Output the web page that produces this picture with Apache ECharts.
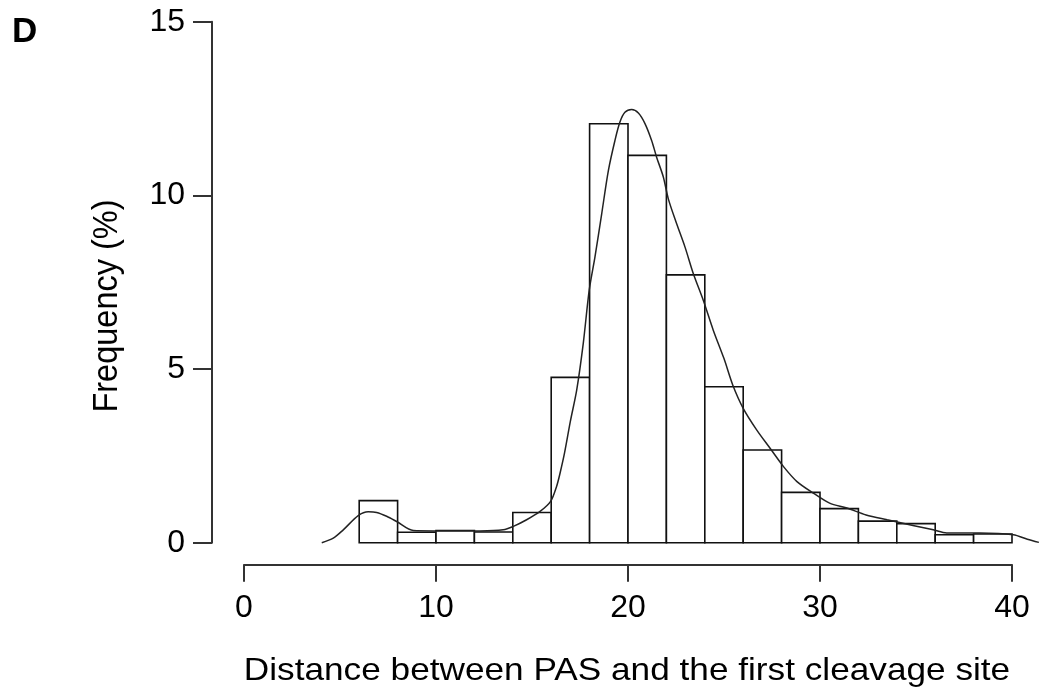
<!DOCTYPE html>
<html>
<head>
<meta charset="utf-8">
<script src="https://cdn.jsdelivr.net/npm/echarts@6/dist/echarts.min.js"></script>
<style>html,body{margin:0;padding:0;background:#fff;}#chart{width:1041px;height:692px;}</style>
</head>
<body>
<div id="chart"></div>
<script>
// Histogram bins (distance) and frequency (%)
var binStart = [6, 8, 10, 12, 14, 16, 18, 20, 22, 24, 26, 28, 30, 32, 34, 36, 38];
var binEnd   = [8, 10, 12, 14, 16, 18, 20, 22, 24, 26, 28, 30, 32, 34, 36, 38, 40];
var freq     = [1.21, 0.30, 0.35, 0.31, 0.87, 4.76, 12.06, 11.15, 7.71, 4.49, 2.67, 1.45, 0.98, 0.62, 0.55, 0.23, 0.25];

// Density curve points
var densX = [4.05, 4.65, 5.17, 5.95, 6.47, 6.91, 7.43, 7.95, 8.82, 9.85, 11.08, 12.29, 13.5, 14.03, 14.72, 15.42, 15.97, 16.28, 16.46, 16.7, 17.0, 17.33, 17.67, 17.98, 18.28, 18.63, 18.98, 19.32, 19.58, 19.84, 20.19, 20.54, 20.89, 21.23, 21.49, 21.84, 22.1, 22.53, 22.97, 23.4, 23.92, 24.44, 25.0, 25.45, 26.0, 26.7, 27.4, 28.1, 28.8, 29.65, 30.5, 31.4, 32.4, 33.5, 34.9, 35.9, 36.6, 38.3, 40.07, 40.8, 41.4];
var densY = [0, 0.13, 0.37, 0.78, 0.89, 0.87, 0.76, 0.61, 0.35, 0.34, 0.34, 0.34, 0.37, 0.47, 0.66, 0.90, 1.19, 1.62, 2.0, 2.6, 3.5, 4.4, 5.74, 7.27, 8.23, 9.47, 10.72, 11.58, 12.11, 12.39, 12.47, 12.37, 12.06, 11.58, 11.10, 10.53, 9.9, 9.19, 8.51, 7.75, 6.98, 6.12, 5.3, 4.55, 3.87, 3.25, 2.72, 2.19, 1.76, 1.43, 1.14, 1.0, 0.80, 0.66, 0.49, 0.37, 0.28, 0.28, 0.23, 0.10, 0.01];

// Axis ticks
var xTicks = { min: 0, max: 40, interval: 10 };
var xDataMax = 41.5; // the curve runs a little past the last tick
var yTicks = { min: 0, max: 15, interval: 5 };

var titleX = 'Distance between PAS and the first cleavage site';
var titleY = 'Frequency (%)';
var panel = 'D';

var FONT = '"Liberation Sans", Arial, Helvetica, sans-serif';
var chart = echarts.init(document.getElementById('chart'), null, { renderer: 'canvas' });

var axisLineStyle = { color: '#333', width: 2 };
var plotLeft = 244, plotTop = 21.7, plotW = 768, plotH = 521;

chart.setOption({
  animation: false,
  backgroundColor: '#fff',
  grid: [
    { left: plotLeft, top: plotTop, width: plotW * (xDataMax - xTicks.min) / (xTicks.max - xTicks.min), height: plotH },
    { left: plotLeft, top: plotTop, width: plotW, height: plotH }
  ],
  xAxis: [
    {
      gridIndex: 0, type: 'value', min: xTicks.min, max: xDataMax, show: false,
      splitLine: { show: false }
    },
    {
      gridIndex: 1, type: 'value', min: xTicks.min, max: xTicks.max, interval: xTicks.interval,
      offset: 22,
      axisLine: { show: true, onZero: false, lineStyle: axisLineStyle },
      axisTick: { show: true, inside: false, length: 17, lineStyle: axisLineStyle },
      axisLabel: { fontSize: 32, color: '#000', margin: 27, fontFamily: FONT },
      splitLine: { show: false }
    }
  ],
  yAxis: [
    {
      gridIndex: 0, type: 'value', min: yTicks.min, max: yTicks.max, interval: yTicks.interval,
      offset: 32,
      axisLine: { show: true, onZero: false, lineStyle: axisLineStyle },
      axisTick: { show: true, inside: false, length: 19, lineStyle: axisLineStyle },
      axisLabel: { fontSize: 32, color: '#000', margin: 27, fontFamily: FONT },
      splitLine: { show: false }
    },
    {
      gridIndex: 1, type: 'value', min: yTicks.min, max: yTicks.max, show: false,
      splitLine: { show: false }
    }
  ],
  series: [
    {
      type: 'custom',
      xAxisIndex: 0, yAxisIndex: 0,
      data: binStart.map(function (s, i) { return [s, binEnd[i], freq[i]]; }),
      encode: { x: [0, 1], y: 2 },
      renderItem: function (params, api) {
        var p0 = api.coord([api.value(0), api.value(2)]);
        var p1 = api.coord([api.value(1), 0]);
        return {
          type: 'rect',
          shape: { x: p0[0], y: p0[1], width: p1[0] - p0[0], height: p1[1] - p0[1] },
          style: { fill: '#fff', stroke: '#111', lineWidth: 1.6 }
        };
      },
      z: 2
    },
    {
      type: 'line',
      xAxisIndex: 0, yAxisIndex: 0,
      data: densX.map(function (x, i) { return [x, densY[i]]; }),
      symbol: 'none',
      smooth: 0.3,
      clip: false,
      lineStyle: { color: '#222', width: 1.5 },
      z: 3
    }
  ],
  graphic: [
    { type: 'text', left: 12, top: 15, style: { text: panel, font: 'bold 35px ' + FONT, fill: '#000' } },
    { type: 'text', x: 107, y: 306, rotation: Math.PI / 2, scaleY: 1.08,
      style: { text: titleY, font: '32.5px ' + FONT, fill: '#000', textAlign: 'center', textVerticalAlign: 'middle' } },
    { type: 'text', x: 627, y: 671, scaleX: 1.1,
      style: { text: titleX, font: '32px ' + FONT, fill: '#000', textAlign: 'center', textVerticalAlign: 'middle' } }
  ]
});
</script>
</body>
</html>
